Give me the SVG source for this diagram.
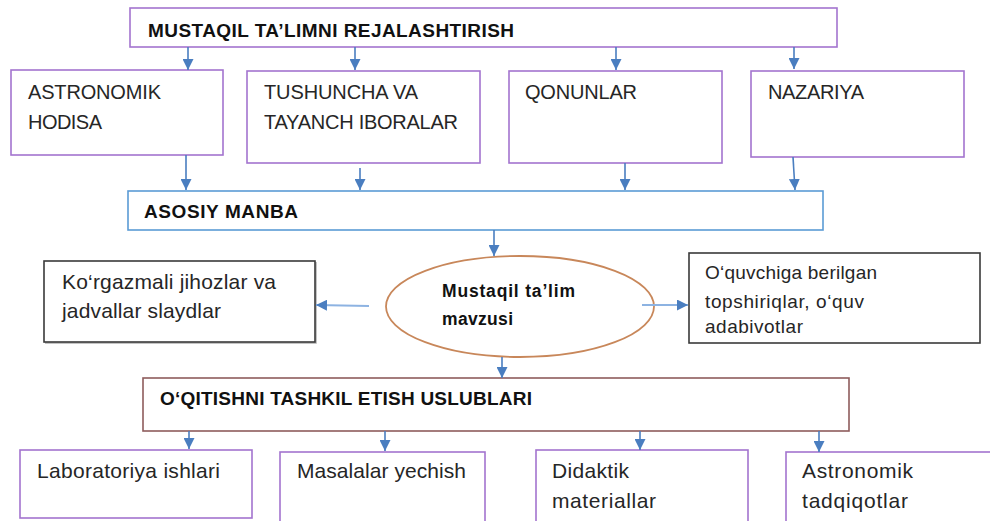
<svg xmlns="http://www.w3.org/2000/svg" width="990" height="521" viewBox="0 0 990 521">
<defs>
<marker id="ah" viewBox="0 0 10 10" refX="10" refY="5" markerWidth="11" markerHeight="11" markerUnits="userSpaceOnUse" orient="auto">
<path d="M0,0 L10,5 L0,10 Z" fill="#4A7EC0"/>
</marker>
</defs>
<style>
.bg{fill:#ffffff}
.pur{fill:#fff;stroke:#A374CF;stroke-width:1.6}
.blu{fill:#fff;stroke:#5B9BD5;stroke-width:1.6}
.brn{fill:#fff;stroke:#8E5C5C;stroke-width:1.6}
.blk{fill:#fff;stroke:#3A3A3A;stroke-width:1.6}
.shd{fill:none;stroke:#B0B0B0;stroke-width:1.5}
.ell{fill:#fff;stroke:#C8875A;stroke-width:1.8}
.t{font-family:"Liberation Sans",Arial,sans-serif;font-size:20px;fill:#262626}
.m{font-family:"Liberation Sans",Arial,sans-serif;font-size:21px;fill:#262626}
.s{font-family:"Liberation Sans",Arial,sans-serif;font-size:19px;fill:#262626}
.b{font-family:"Liberation Sans",Arial,sans-serif;font-size:19px;font-weight:bold;fill:#111}
.bs{font-family:"Liberation Sans",Arial,sans-serif;font-size:17.5px;font-weight:bold;fill:#111}
.con line{stroke:#4A7EC0;stroke-width:1.6;marker-end:url(#ah)}
.con line.lt{stroke:#8DB3E2;stroke-width:2}
</style>
<rect class="bg" x="0" y="0" width="990" height="521"/>

<g id="n-rejalashtirish">
<rect class="pur" x="130" y="8" width="707" height="39"/>
<text class="b" x="148" y="37" textLength="366">MUSTAQIL TA’LIMNI REJALASHTIRISH</text>
</g>
<g id="n-astronomik-hodisa">
<rect class="pur" x="11" y="70" width="212" height="85"/>
<text class="t" x="28" y="99" textLength="133">ASTRONOMIK</text>
<text class="t" x="28" y="129" textLength="74">HODISA</text>
</g>
<g id="n-tushuncha">
<rect class="pur" x="247" y="71" width="233" height="92"/>
<text class="t" x="264" y="99" textLength="154">TUSHUNCHA VA</text>
<text class="t" x="264" y="129" textLength="194">TAYANCH IBORALAR</text>
</g>
<g id="n-qonunlar">
<rect class="pur" x="509" y="71" width="213" height="92"/>
<text class="t" x="525" y="99" textLength="112">QONUNLAR</text>
</g>
<g id="n-nazariya">
<rect class="pur" x="751" y="71" width="213" height="86"/>
<text class="t" x="768" y="99" textLength="96">NAZARIYA</text>
</g>
<g id="n-asosiy-manba">
<rect class="blu" x="128" y="191" width="695" height="39"/>
<text class="b" x="144" y="218" textLength="154">ASOSIY MANBA</text>
</g>
<g id="n-korgazmali">
<polyline class="shd" points="45,343 316,343 316,262"/>
<rect class="blk" x="44" y="261" width="271" height="81"/>
<text class="m" x="62" y="289" textLength="214">Ko‘rgazmali jihozlar va</text>
<text class="m" x="62" y="318" textLength="159">jadvallar slaydlar</text>
</g>
<g id="n-mavzu">
<ellipse class="ell" cx="520" cy="306.5" rx="134" ry="50.5"/>
<text class="bs" x="442" y="297" textLength="133">Mustaqil ta’lim</text>
<text class="bs" x="442" y="325" textLength="71">mavzusi</text>
</g>
<g id="n-oquvchiga">
<rect class="blk" x="689" y="253" width="291" height="90"/>
<text class="s" x="705" y="279" textLength="172">O‘quvchiga berilgan</text>
<text class="s" x="705" y="308" textLength="159">topshiriqlar, o‘quv</text>
<text class="s" x="705" y="333" textLength="98">adabivotlar</text>
</g>
<g id="n-uslublari">
<rect class="brn" x="143" y="378" width="706" height="53"/>
<text class="b" x="160" y="405" textLength="372">O‘QITISHNI TASHKIL ETISH USLUBLARI</text>
</g>
<g id="n-laboratoriya">
<rect class="pur" x="20" y="450" width="232" height="68"/>
<text class="m" x="37" y="478" textLength="183">Laboratoriya ishlari</text>
</g>
<g id="n-masalalar">
<rect class="pur" x="280" y="452" width="205" height="90"/>
<text class="m" x="297" y="478" textLength="169">Masalalar yechish</text>
</g>
<g id="n-didaktik">
<rect class="pur" x="536" y="450" width="212" height="90"/>
<text class="m" x="552" y="478" textLength="77">Didaktik</text>
<text class="m" x="552" y="508" textLength="104">materiallar</text>
</g>
<g id="n-astronomik-tadqiqotlar">
<rect class="pur" x="786" y="452" width="220" height="90"/>
<text class="m" x="802" y="478" textLength="111">Astronomik</text>
<text class="m" x="802" y="508" textLength="106">tadqiqotlar</text>
</g>

<g id="connectors" class="con">
<line x1="188" y1="47" x2="188" y2="70"/>
<line x1="355" y1="47" x2="355" y2="70"/>
<line x1="616" y1="47" x2="616" y2="70"/>
<line x1="794" y1="47" x2="794" y2="69"/>
<line x1="186" y1="155" x2="186" y2="190"/>
<line x1="360" y1="168" x2="360" y2="190"/>
<line x1="625" y1="163" x2="625" y2="190"/>
<line x1="793" y1="157" x2="795" y2="190"/>
<line x1="494" y1="230" x2="494" y2="256"/>
<line class="lt" x1="369" y1="306" x2="316" y2="305"/>
<line class="lt" x1="642" y1="305" x2="688" y2="305"/>
<line x1="502" y1="357" x2="502" y2="378"/>
<line x1="189" y1="431" x2="189" y2="449"/>
<line x1="385" y1="431" x2="385" y2="451"/>
<line x1="640" y1="431" x2="640" y2="450"/>
<line x1="819" y1="431" x2="819" y2="452"/>
</g>
</svg>
